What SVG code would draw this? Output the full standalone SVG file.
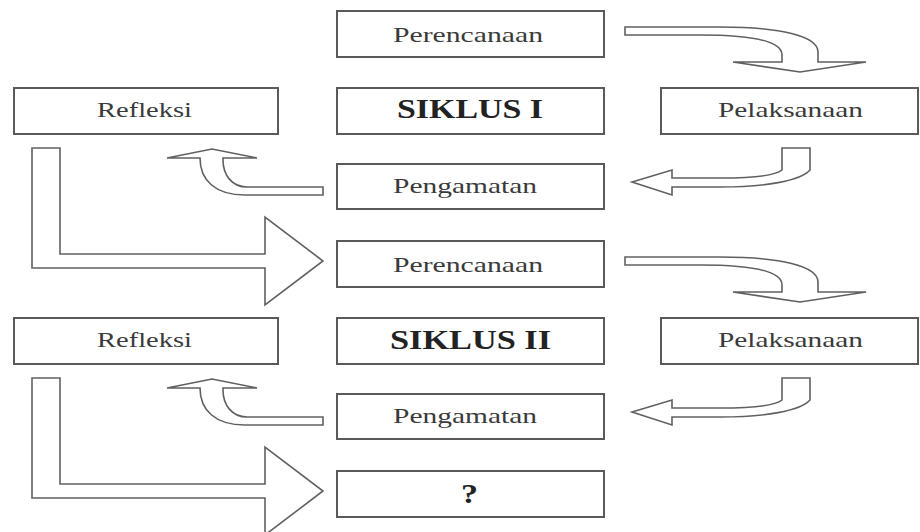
<svg xmlns="http://www.w3.org/2000/svg" width="920" height="532" viewBox="0 0 920 532">
<style>
.box{fill:#fff;stroke:#5a5a5a;stroke-width:2}
.t{font-family:"Liberation Serif","DejaVu Serif",serif;font-size:21px;fill:#3a3a3a}
.b{font-family:"Liberation Serif","DejaVu Serif",serif;font-size:27px;font-weight:bold;fill:#222}
.arr{fill:#fff;stroke:#606060;stroke-width:1.6;stroke-linejoin:miter}
</style>
<rect width="920" height="532" fill="#fff"/>
<g id="connectors">
<path class="arr" d="M625,27 L720,27 C780,27 818,36 818,52 L818,62 L866,62 L800,72 L733,62 L782,62 L782,55 C782,42 755,35 700,35 L625,35 Z"/>
<path class="arr" d="M810,148 L810,170 C800,181 765,187 720,187 L672,187 L672,195 L632,182 L672,170 L672,178 L720,178 C755,178 776,175 782,170 L782,148 Z"/>
<path class="arr" d="M323,187 L247,187 C232,187 223,175 223,160 L223,158 L257,158 L212,149 L167,158 L200,158 C200,180 215,195 245,195 L323,195 Z"/>
<path class="arr" d="M32,148 L60,148 L60,254 L265,254 L265,217 L323,261 L265,305 L265,268 L32,268 Z"/>
<g transform="translate(0,230)">
<path class="arr" d="M625,27 L720,27 C780,27 818,36 818,52 L818,62 L866,62 L800,72 L733,62 L782,62 L782,55 C782,42 755,35 700,35 L625,35 Z"/>
<path class="arr" d="M810,148 L810,170 C800,181 765,187 720,187 L672,187 L672,195 L632,182 L672,170 L672,178 L720,178 C755,178 776,175 782,170 L782,148 Z"/>
<path class="arr" d="M323,187 L247,187 C232,187 223,175 223,160 L223,158 L257,158 L212,149 L167,158 L200,158 C200,180 215,195 245,195 L323,195 Z"/>
<path class="arr" d="M32,148 L60,148 L60,254 L265,254 L265,217 L323,261 L265,305 L265,268 L32,268 Z"/>
</g>
</g>
<g id="perencanaan1"><rect class="box" x="337" y="11" width="267" height="46"/><text class="t" x="393" y="42" textLength="150" lengthAdjust="spacingAndGlyphs">Perencanaan</text></g>
<g id="siklus1"><rect class="box" x="337" y="88" width="267" height="46"/><text class="b" x="397" y="118" textLength="146" lengthAdjust="spacingAndGlyphs">SIKLUS I</text></g>
<g id="refleksi1"><rect class="box" x="14" y="88" width="264" height="46"/><text class="t" x="97" y="117" textLength="95" lengthAdjust="spacingAndGlyphs">Refleksi</text></g>
<g id="pelaksanaan1"><rect class="box" x="661" y="88" width="257" height="46"/><text class="t" x="718" y="117" textLength="145" lengthAdjust="spacingAndGlyphs">Pelaksanaan</text></g>
<g id="pengamatan1"><rect class="box" x="337" y="164" width="267" height="45"/><text class="t" x="393" y="193" textLength="144" lengthAdjust="spacingAndGlyphs">Pengamatan</text></g>
<g id="perencanaan2"><rect class="box" x="337" y="241" width="267" height="46"/><text class="t" x="393" y="272" textLength="150" lengthAdjust="spacingAndGlyphs">Perencanaan</text></g>
<g id="siklus2"><rect class="box" x="337" y="318" width="267" height="46"/><text class="b" x="390" y="349" textLength="161" lengthAdjust="spacingAndGlyphs">SIKLUS II</text></g>
<g id="refleksi2"><rect class="box" x="14" y="318" width="264" height="46"/><text class="t" x="97" y="347" textLength="95" lengthAdjust="spacingAndGlyphs">Refleksi</text></g>
<g id="pelaksanaan2"><rect class="box" x="661" y="318" width="257" height="46"/><text class="t" x="718" y="347" textLength="145" lengthAdjust="spacingAndGlyphs">Pelaksanaan</text></g>
<g id="pengamatan2"><rect class="box" x="337" y="394" width="267" height="45"/><text class="t" x="393" y="423" textLength="144" lengthAdjust="spacingAndGlyphs">Pengamatan</text></g>
<g id="unknown"><rect class="box" x="337" y="471" width="267" height="46"/><text class="b" x="461" y="503" textLength="17" lengthAdjust="spacingAndGlyphs">?</text></g>
</svg>
